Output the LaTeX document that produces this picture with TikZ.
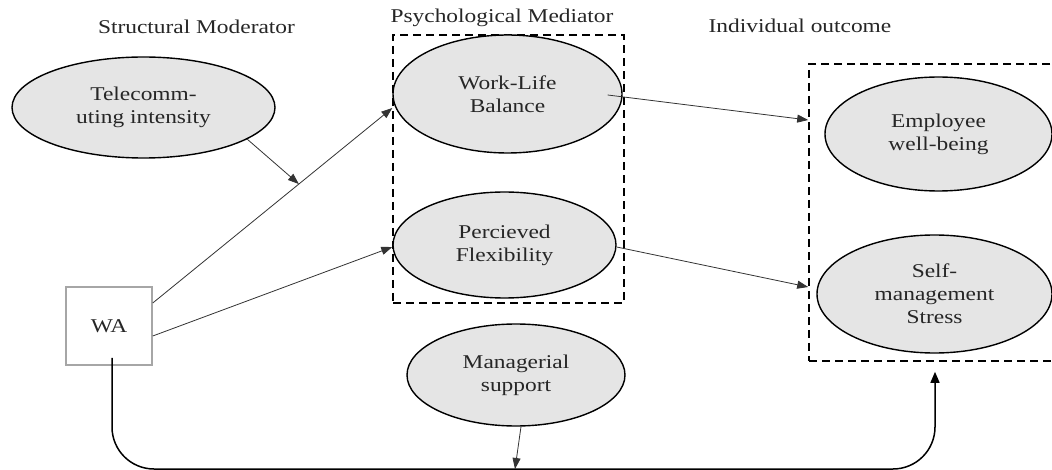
\documentclass[tikz,border=0pt]{standalone}
\usepackage{fontspec}
\setmainfont{Liberation Serif}[FakeStretch=1.2]
\usetikzlibrary{shapes.geometric,arrows.meta,calc}
\begin{document}
\begin{tikzpicture}[x=1pt,y=-1pt,
  font=\fontsize{19.5}{23}\selectfont,
  oval/.style={ellipse, draw=black, line width=1.4pt, fill=gray!20, inner sep=0pt, align=center, text=black!85},
  dbox/.style={draw=black, line width=1.6pt, dash pattern=on 8pt off 5pt, inner sep=0pt},
  arr/.style={draw=black!80, line width=0.8pt, -{Triangle[length=11pt,width=8pt]}},
  bigarr/.style={draw=black, line width=1.5pt, rounded corners=42pt, -{Triangle[length=11pt,width=9pt]}},
  lbl/.style={anchor=base, text=black!85},
  wabox/.style={draw=black!35, line width=1.5pt, minimum width=86pt, minimum height=78pt, inner sep=0pt, text=black!85}]
\clip (0,0) rectangle (1052,470);
\fill[white] (0,0) rectangle (1052,470);

% group labels
\node[lbl] (lsm) at (196.5,34) {Structural Moderator};
\node[lbl] (lpm) at (502,23) {Psychological Mediator};
\node[lbl] (lio) at (800,33) {Individual outcome};

% dashed boxes
\node[dbox, minimum width=231pt, minimum height=268pt] (mbox) at (508.5,169) {};
\node[dbox, minimum width=271pt, minimum height=297pt] (rbox) at (944.5,212.5) {};

% nodes
\node[oval, minimum width=263pt, minimum height=101pt] (tele) at (143.5,107.5) {Telecomm-\\uting intensity};
\node[oval, minimum width=229pt, minimum height=118pt] (wlb) at (507.5,94) {Work-Life\\Balance};
\node[oval, minimum width=223pt, minimum height=106pt] (pf) at (504.5,245) {Percieved\\Flexibility};
\node[oval, minimum width=218pt, minimum height=102pt] (ms) at (516,375) {Managerial\\support};
\node[oval, minimum width=227pt, minimum height=114pt] (ew) at (938.5,134) {Employee\\well-being};
\node[oval, minimum width=235pt, minimum height=118pt] (sms) at (934.5,294) {Self-\\management\\Stress};
\node[wabox] (wa) at (109,326) {WA};

% connectors
\path ([yshift=23pt]wa.east) -- ([yshift=-14pt]wlb.west) coordinate[pos=0.61] (mod);
\draw[arr] ([yshift=23pt]wa.east) -- ([yshift=-14pt]wlb.west);
\draw[arr] ([yshift=-10pt]wa.east) -- ([yshift=-2pt]pf.west);
\draw[arr] (tele.-17) -- (mod);
\draw[arr] ([xshift=-15pt,yshift=-1pt]wlb.east) -- ([yshift=92.5pt]rbox.west);
\draw[arr] ([yshift=-2pt]pf.east) -- ([yshift=-74.5pt]rbox.west);
\coordinate (c1) at (112,469);
\coordinate (c2) at (935,469);
\draw[arr] ([xshift=5pt]ms.south) -- ([xshift=-1pt]c1 -| ms.south);
\draw[bigarr] ([xshift=3pt,yshift=8pt]wa.south) -- (c1) -- (c2) -- ([xshift=-9.5pt,yshift=-10pt]rbox.south);
\end{tikzpicture}
\end{document}
